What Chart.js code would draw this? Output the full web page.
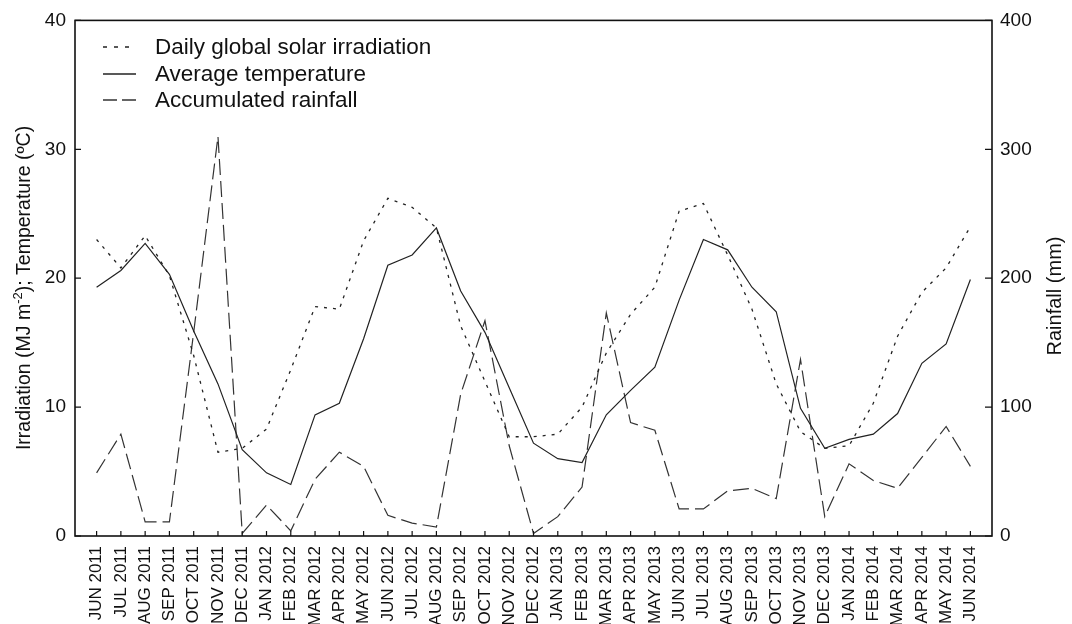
<!DOCTYPE html>
<html>
<head>
<meta charset="utf-8">
<title>Irradiation, temperature and rainfall</title>
<script src="https://cdn.jsdelivr.net/npm/chart.js@4.4.1/dist/chart.umd.min.js"></script>
<style>
    html, body { margin: 0; padding: 0; background: #fff; }
    canvas { display: block; }
</style>
</head>
<body>
<canvas id="climateChart" width="1072" height="624"></canvas>
<script>
// Meses de la serie
const months = [
    'JUN 2011', 'JUL 2011', 'AUG 2011', 'SEP 2011', 'OCT 2011', 'NOV 2011', 'DEC 2011',
    'JAN 2012', 'FEB 2012', 'MAR 2012', 'APR 2012', 'MAY 2012', 'JUN 2012', 'JUL 2012',
    'AUG 2012', 'SEP 2012', 'OCT 2012', 'NOV 2012', 'DEC 2012', 'JAN 2013', 'FEB 2013',
    'MAR 2013', 'APR 2013', 'MAY 2013', 'JUN 2013', 'JUL 2013', 'AUG 2013', 'SEP 2013',
    'OCT 2013', 'NOV 2013', 'DEC 2013', 'JAN 2014', 'FEB 2014', 'MAR 2014', 'APR 2014',
    'MAY 2014', 'JUN 2014'
];

// Irradiación global diaria (MJ m-2)
const irradiation = [
    23.0, 20.8, 23.3, 20.2, 14.0, 6.5, 6.8, 8.3, 12.9, 17.8, 17.6, 22.9, 26.2, 25.5,
    23.9, 16.3, 12.0, 7.7, 7.7, 7.9, 10.0, 14.2, 17.2, 19.3, 25.2, 25.8, 21.8, 17.6,
    11.8, 8.1, 6.8, 7.0, 10.3, 15.5, 18.9, 20.8, 24.0
];

// Temperatura media (ºC)
const temperature = [
    19.3, 20.6, 22.7, 20.3, 15.9, 11.8, 6.7, 4.9, 4.0, 9.4, 10.3, 15.3, 21.0, 21.8,
    23.9, 19.0, 15.8, 11.5, 7.2, 6.0, 5.7, 9.4, 11.3, 13.1, 18.3, 23.0, 22.2, 19.3,
    17.4, 9.9, 6.8, 7.5, 7.9, 9.5, 13.4, 14.9, 19.9
];

// Lluvia acumulada (mm)
const rainfall = [
    49, 79, 11, 11, 158, 310, 2, 24, 4, 44, 65, 54, 16, 10,
    7, 110, 167, 70, 2, 15, 38, 173, 88, 82, 21, 21, 35, 37,
    29, 137, 15, 56, 43, 37, 61, 85, 54
];

const leftTicks = [0, 10, 20, 30, 40];
const rightTicks = [0, 100, 200, 300, 400];

const FONT = '"Liberation Sans", Arial, sans-serif';
const INK = '#111';

function toPoints(values) {
    return values.map((v, i) => ({ x: i, y: v }));
}

// Marco, marcas hacia dentro, leyenda y títulos de ejes
const framePlugin = {
    id: 'frame',
    afterDraw(chart) {
        const { ctx, chartArea: a, scales } = chart;
        ctx.save();

        ctx.strokeStyle = INK;
        ctx.lineWidth = 1.6;
        ctx.strokeRect(a.left, a.top, a.right - a.left, a.bottom - a.top);

        ctx.lineWidth = 1.2;
        ctx.beginPath();
        scales.x.ticks.forEach(t => {
            const px = scales.x.getPixelForValue(t.value);
            ctx.moveTo(px, a.bottom);
            ctx.lineTo(px, a.bottom - 5);
        });
        scales.y.ticks.forEach(t => {
            const py = scales.y.getPixelForValue(t.value);
            ctx.moveTo(a.left, py);
            ctx.lineTo(a.left + 6, py);
        });
        scales.y2.ticks.forEach(t => {
            const py = scales.y2.getPixelForValue(t.value);
            ctx.moveTo(a.right, py);
            ctx.lineTo(a.right - 7, py);
        });
        ctx.stroke();

        // Leyenda
        const rows = [47, 74, 100];
        ctx.font = '22.5px ' + FONT;
        ctx.textBaseline = 'middle';
        ctx.textAlign = 'left';
        chart.data.datasets.forEach((ds, i) => {
            ctx.strokeStyle = ds.borderColor;
            ctx.lineWidth = 1.5;
            ctx.setLineDash(ds.legendDash);
            ctx.beginPath();
            ctx.moveTo(103, rows[i]);
            ctx.lineTo(136, rows[i]);
            ctx.stroke();
            ctx.setLineDash([]);
            ctx.fillStyle = INK;
            ctx.fillText(ds.label, 155, rows[i] + 1);
        });

        // Título eje izquierdo con superíndice
        const parts = [
            { t: 'Irradiation (MJ m', size: 19.5, dy: 0 },
            { t: '-2', size: 13, dy: -7 },
            { t: '); Temperature (ºC)', size: 19.5, dy: 0 }
        ];
        let total = 0;
        parts.forEach(p => {
            ctx.font = p.size + 'px ' + FONT;
            p.w = ctx.measureText(p.t).width;
            total += p.w;
        });
        ctx.save();
        ctx.translate(25, 288);
        ctx.rotate(-Math.PI / 2);
        let x = -total / 2;
        parts.forEach(p => {
            ctx.font = p.size + 'px ' + FONT;
            ctx.fillText(p.t, x, p.dy);
            x += p.w;
        });
        ctx.restore();

        // Título eje derecho
        ctx.save();
        ctx.translate(1055, 296);
        ctx.rotate(-Math.PI / 2);
        ctx.font = '20px ' + FONT;
        ctx.textAlign = 'center';
        ctx.fillText('Rainfall (mm)', 0, 0);
        ctx.restore();

        ctx.restore();
    }
};

new Chart(document.getElementById('climateChart'), {
    type: 'line',
    data: {
        datasets: [
            {
                label: 'Daily global solar irradiation',
                data: toPoints(irradiation),
                yAxisID: 'y',
                borderColor: '#222',
                borderWidth: 1.3,
                borderDash: [3, 6],
                legendDash: [4, 7],
                pointRadius: 0,
                tension: 0
            },
            {
                label: 'Average temperature',
                data: toPoints(temperature),
                yAxisID: 'y',
                borderColor: '#222',
                borderWidth: 1.2,
                borderDash: [],
                legendDash: [],
                pointRadius: 0,
                tension: 0
            },
            {
                label: 'Accumulated rainfall',
                data: toPoints(rainfall),
                yAxisID: 'y2',
                borderColor: '#333',
                borderWidth: 1.2,
                borderDash: [16, 6],
                legendDash: [14, 5],
                pointRadius: 0,
                tension: 0
            }
        ]
    },
    options: {
        responsive: false,
        animation: false,
        layout: { padding: { top: 18, left: 0, right: 0, bottom: 0 } },
        plugins: {
            legend: { display: false },
            tooltip: { enabled: false }
        },
        scales: {
            x: {
                type: 'linear',
                min: -0.89,
                max: 36.89,
                grid: { display: false, drawTicks: false },
                border: { display: false },
                afterBuildTicks: scale => {
                    scale.ticks = months.map((m, i) => ({ value: i }));
                },
                afterFit: scale => { scale.height = 88; },
                ticks: {
                    autoSkip: false,
                    minRotation: 90,
                    maxRotation: 90,
                    padding: 10,
                    color: INK,
                    font: { family: FONT, size: 17 },
                    callback: value => months[value]
                }
            },
            y: {
                position: 'left',
                min: 0,
                max: 40,
                grid: { display: false, drawTicks: false },
                border: { display: false },
                afterBuildTicks: scale => {
                    scale.ticks = leftTicks.map(v => ({ value: v }));
                },
                afterFit: scale => { scale.width = 75; },
                ticks: {
                    padding: 9,
                    color: INK,
                    font: { family: FONT, size: 19 }
                }
            },
            y2: {
                position: 'right',
                min: 0,
                max: 400,
                grid: { display: false, drawTicks: false },
                border: { display: false },
                afterBuildTicks: scale => {
                    scale.ticks = rightTicks.map(v => ({ value: v }));
                },
                afterFit: scale => { scale.width = 80; },
                ticks: {
                    padding: 8,
                    color: INK,
                    font: { family: FONT, size: 19 }
                }
            }
        }
    },
    plugins: [framePlugin]
});
</script>
</body>
</html>
